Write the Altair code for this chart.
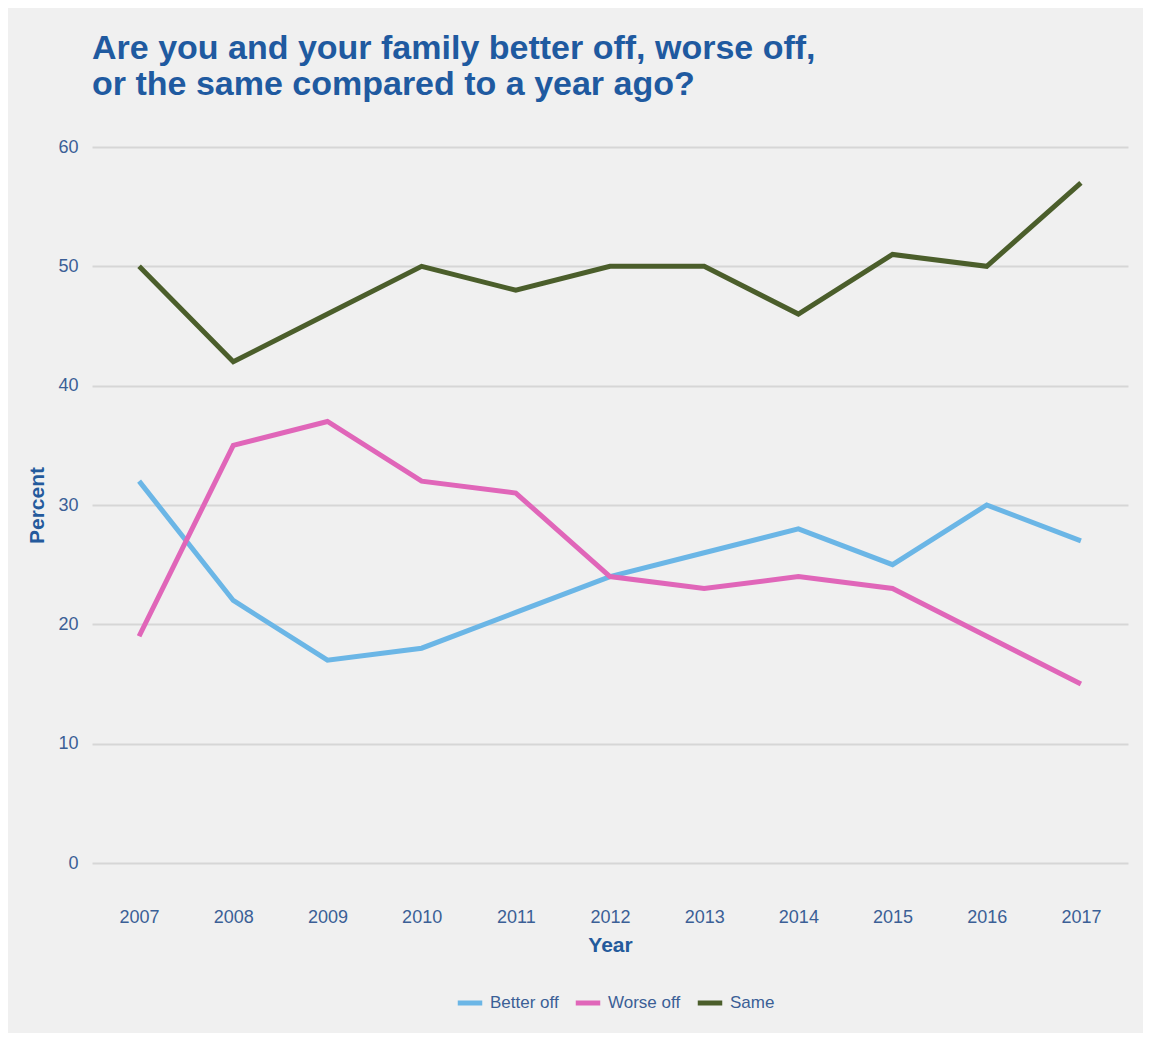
import altair as alt
import pandas as pd

years = [2007, 2008, 2009, 2010, 2011, 2012, 2013, 2014, 2015, 2016, 2017]
better_off = [32, 22, 17, 18, 21, 24, 26, 28, 25, 30, 27]
worse_off = [19, 35, 37, 32, 31, 24, 23, 24, 23, 19, 15]
same = [50, 42, 46, 50, 48, 50, 50, 46, 51, 50, 57]

series_names = ["Better off", "Worse off", "Same"]
series_colors = ["#6bb6e6", "#e066b9", "#4b5e2b"]

rows = []
for name, vals in zip(series_names, [better_off, worse_off, same]):
    for y, v in zip(years, vals):
        rows.append({"Year": str(y), "Percent": v, "Series": name})
df = pd.DataFrame(rows)

FONT = "Liberation Sans"
TXT = "#3b5f96"
TTL = "#1f5aa0"

chart = alt.Chart(df).mark_line(strokeWidth=5).encode(
    x=alt.X("Year:O", title="Year", sort=[str(y) for y in years],
            scale=alt.Scale(type="point", padding=0.5),
            axis=alt.Axis(labelAngle=0, ticks=False, domain=False, grid=False,
                          labelPadding=45, titlePadding=8)),
    y=alt.Y("Percent:Q", title="Percent",
            scale=alt.Scale(domain=[0, 60], nice=False, zero=True),
            axis=alt.Axis(values=[0, 10, 20, 30, 40, 50, 60], ticks=False, domain=False,
                          labelPadding=14, titlePadding=10)),
    color=alt.Color("Series:N", sort=series_names,
                    scale=alt.Scale(domain=series_names, range=series_colors),
                    legend=alt.Legend(title=None, orient="none", direction="horizontal",
                                      legendX=363, legendY=841,
                                      symbolType="stroke", symbolStrokeWidth=5,
                                      symbolSize=600, labelFontSize=17, labelColor=TXT,
                                      labelFont=FONT, columnPadding=6, labelOffset=5)),
    detail="Series:N",
).properties(
    width=1036,
    height=716,
    autosize=alt.AutoSizeParams(type="none"),
    padding={"left": 84, "top": 139, "right": 15, "bottom": 170},
    title=alt.TitleParams(
        text=["Are you and your family better off, worse off,",
              "or the same compared to a year ago?"],
        anchor="start", frame="group", fontSize=34, fontWeight="bold",
        color=TTL, font=FONT, lineHeight=36, offset=36),
).configure(
    background="#f0f0f0",
).configure_view(
    stroke=None, fill="#f0f0f0",
).configure_axis(
    labelFont=FONT, labelFontSize=18, labelColor=TXT,
    titleFont=FONT, titleFontSize=21, titleFontWeight="bold", titleColor="#245a9c",
    gridColor="#d6d6d6", gridWidth=2,
)

chart.save("out.html", embed_options={"renderer": "svg", "actions": False})
